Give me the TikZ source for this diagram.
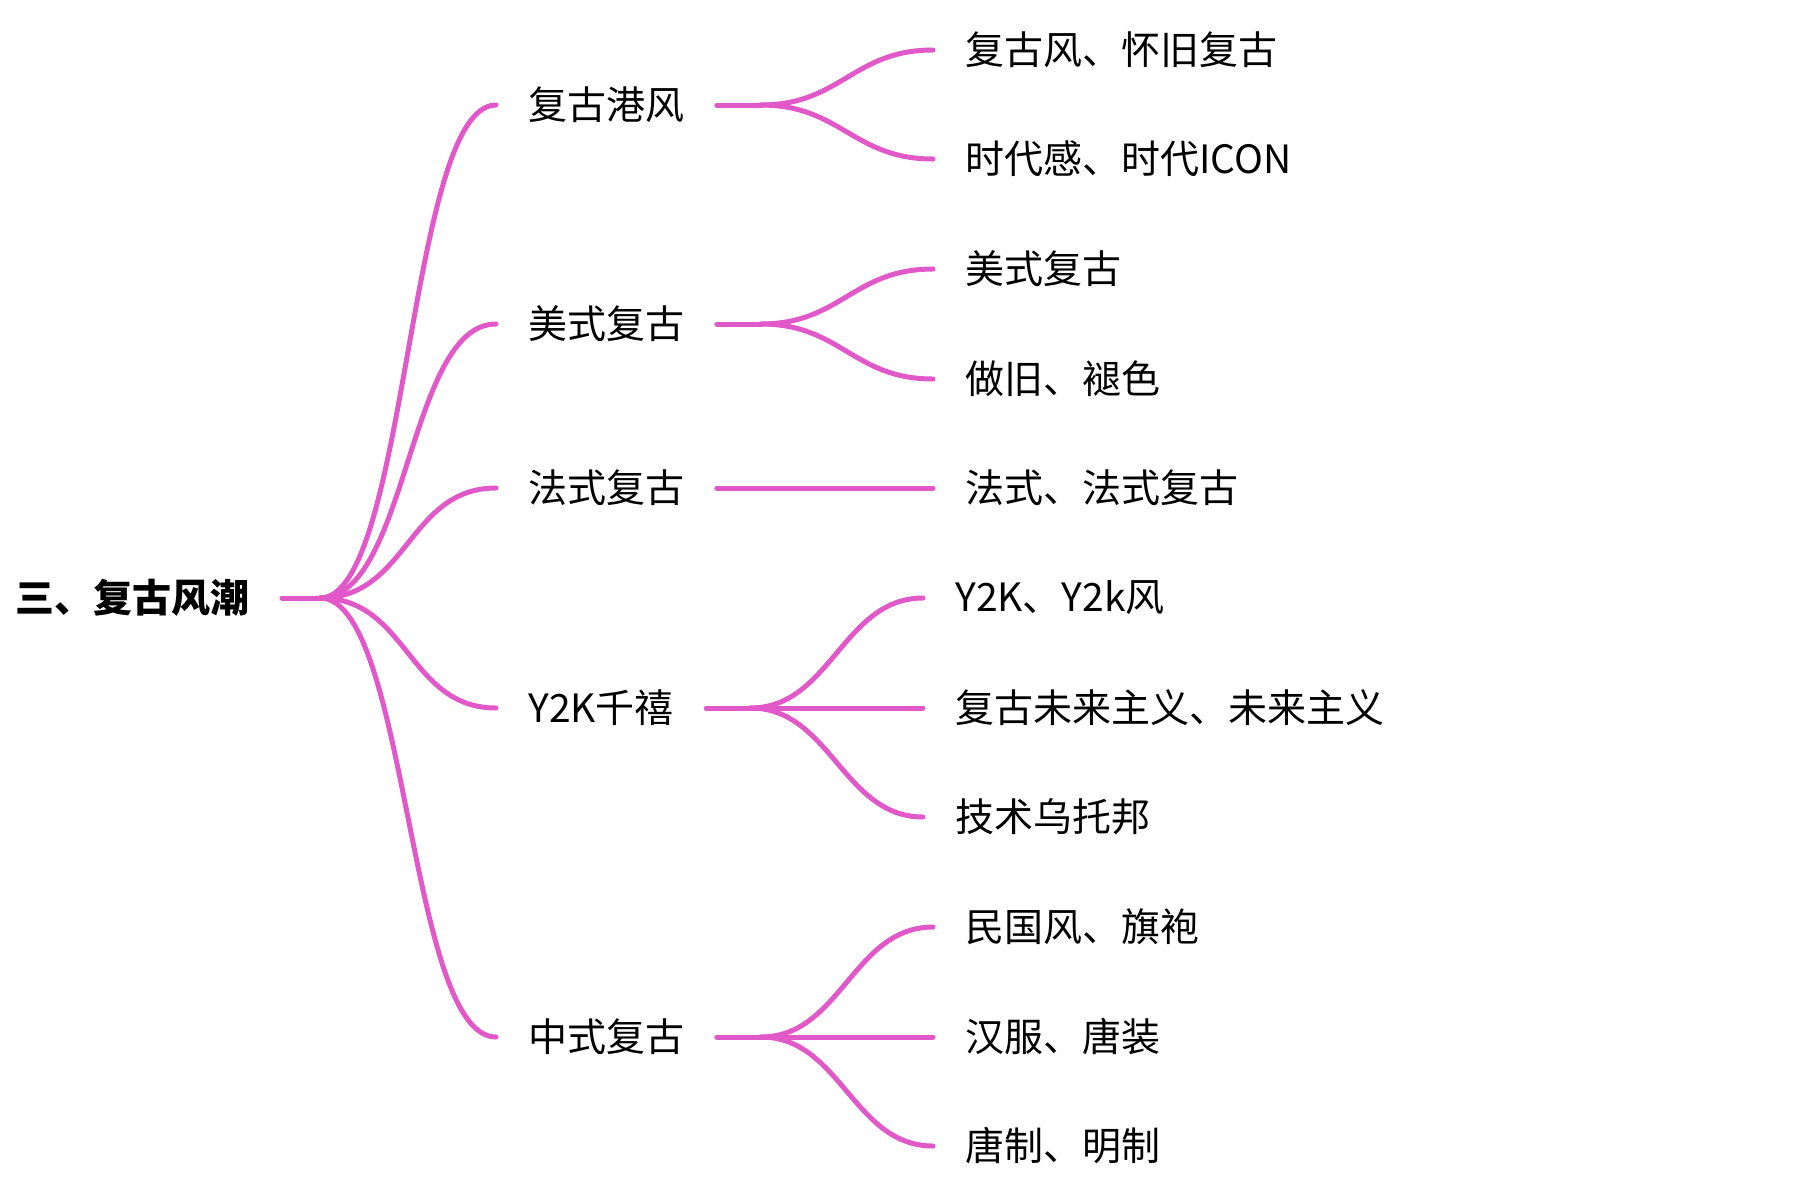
\documentclass[tikz,border=0pt]{standalone}
\usepackage{fontspec}
\newfontfamily\cjk{Noto Sans CJK SC}
\definecolor{mindpink}{RGB}{225,88,200}
\tikzset{
  topic/.style={inner xsep=16pt, inner ysep=2pt, text=black,
    font=\cjk\fontsize{19.5}{23}\selectfont},
  roottopic/.style={topic, font=\cjk\bfseries\fontsize{19.5}{23}\selectfont},
  branch/.style={draw=mindpink, line width=2.5pt, line cap=round}
}

\begin{document}
\begin{tikzpicture}[x=0.5pt,y=0.5pt,yscale=-1,xscale=1]
\useasboundingbox (0,0) rectangle (1810,1190);

% Root
\node (root) [roottopic, anchor=east] at (282,598) {三、复古风潮};
\coordinate (root-b) at (320,598);

% Text Node
\node (hk) [topic, anchor=west] at (496,105) {复古港风};
\node (us) [topic, anchor=west] at (496,324) {美式复古};
\node (fr) [topic, anchor=west] at (496,488) {法式复古};
\node (y2k) [topic, anchor=west] at (496,708) {Y2K千禧};
\node (cn) [topic, anchor=west] at (496,1037) {中式复古};

% Text Node
\node (hk1) [topic, anchor=west] at (933,50) {复古风、怀旧复古};
\node (hk2) [topic, anchor=west] at (933,159) {时代感、时代ICON};
\node (us1) [topic, anchor=west] at (933,269) {美式复古};
\node (us2) [topic, anchor=west] at (933,379) {做旧、褪色};
\node (fr1) [topic, anchor=west] at (933,488) {法式、法式复古};
\node (y2k1) [topic, anchor=west] at (923,598) {Y2K、Y2k风};
\node (y2k2) [topic, anchor=west] at (923,708) {复古未来主义、未来主义};
\node (y2k3) [topic, anchor=west] at (923,817) {技术乌托邦};
\node (cn1) [topic, anchor=west] at (933,927) {民国风、旗袍};
\node (cn2) [topic, anchor=west] at (933,1037) {汉服、唐装};
\node (cn3) [topic, anchor=west] at (933,1146) {唐制、明制};

% Branch points
\coordinate (hk-b) at ([xshift=22pt]hk.east);
\coordinate (us-b) at ([xshift=22pt]us.east);
\coordinate (y2k-b) at ([xshift=22pt]y2k.east);
\coordinate (cn-b) at ([xshift=22pt]cn.east);

% Root to first level
\draw [branch] (root.east) -- (root-b);
\draw [branch] (root-b) .. controls +(88,0) and +(-88,0) .. (hk.west);
\draw [branch] (root-b) .. controls +(88,0) and +(-88,0) .. (us.west);
\draw [branch] (root-b) .. controls +(88,0) and +(-88,0) .. (fr.west);
\draw [branch] (root-b) .. controls +(88,0) and +(-88,0) .. (y2k.west);
\draw [branch] (root-b) .. controls +(88,0) and +(-88,0) .. (cn.west);

% First level to second level
\draw [branch] (hk.east) -- (hk-b);
\draw [branch] (hk-b) .. controls +(80,0) and +(-80,0) .. (hk1.west);
\draw [branch] (hk-b) .. controls +(80,0) and +(-80,0) .. (hk2.west);

\draw [branch] (us.east) -- (us-b);
\draw [branch] (us-b) .. controls +(80,0) and +(-80,0) .. (us1.west);
\draw [branch] (us-b) .. controls +(80,0) and +(-80,0) .. (us2.west);

\draw [branch] (fr.east) -- (fr1.west);

\draw [branch] (y2k.east) -- (y2k-b);
\draw [branch] (y2k-b) .. controls +(80,0) and +(-80,0) .. (y2k1.west);
\draw [branch] (y2k-b) -- (y2k2.west);
\draw [branch] (y2k-b) .. controls +(80,0) and +(-80,0) .. (y2k3.west);

\draw [branch] (cn.east) -- (cn-b);
\draw [branch] (cn-b) .. controls +(80,0) and +(-80,0) .. (cn1.west);
\draw [branch] (cn-b) -- (cn2.west);
\draw [branch] (cn-b) .. controls +(80,0) and +(-80,0) .. (cn3.west);

\end{tikzpicture}
\end{document}
